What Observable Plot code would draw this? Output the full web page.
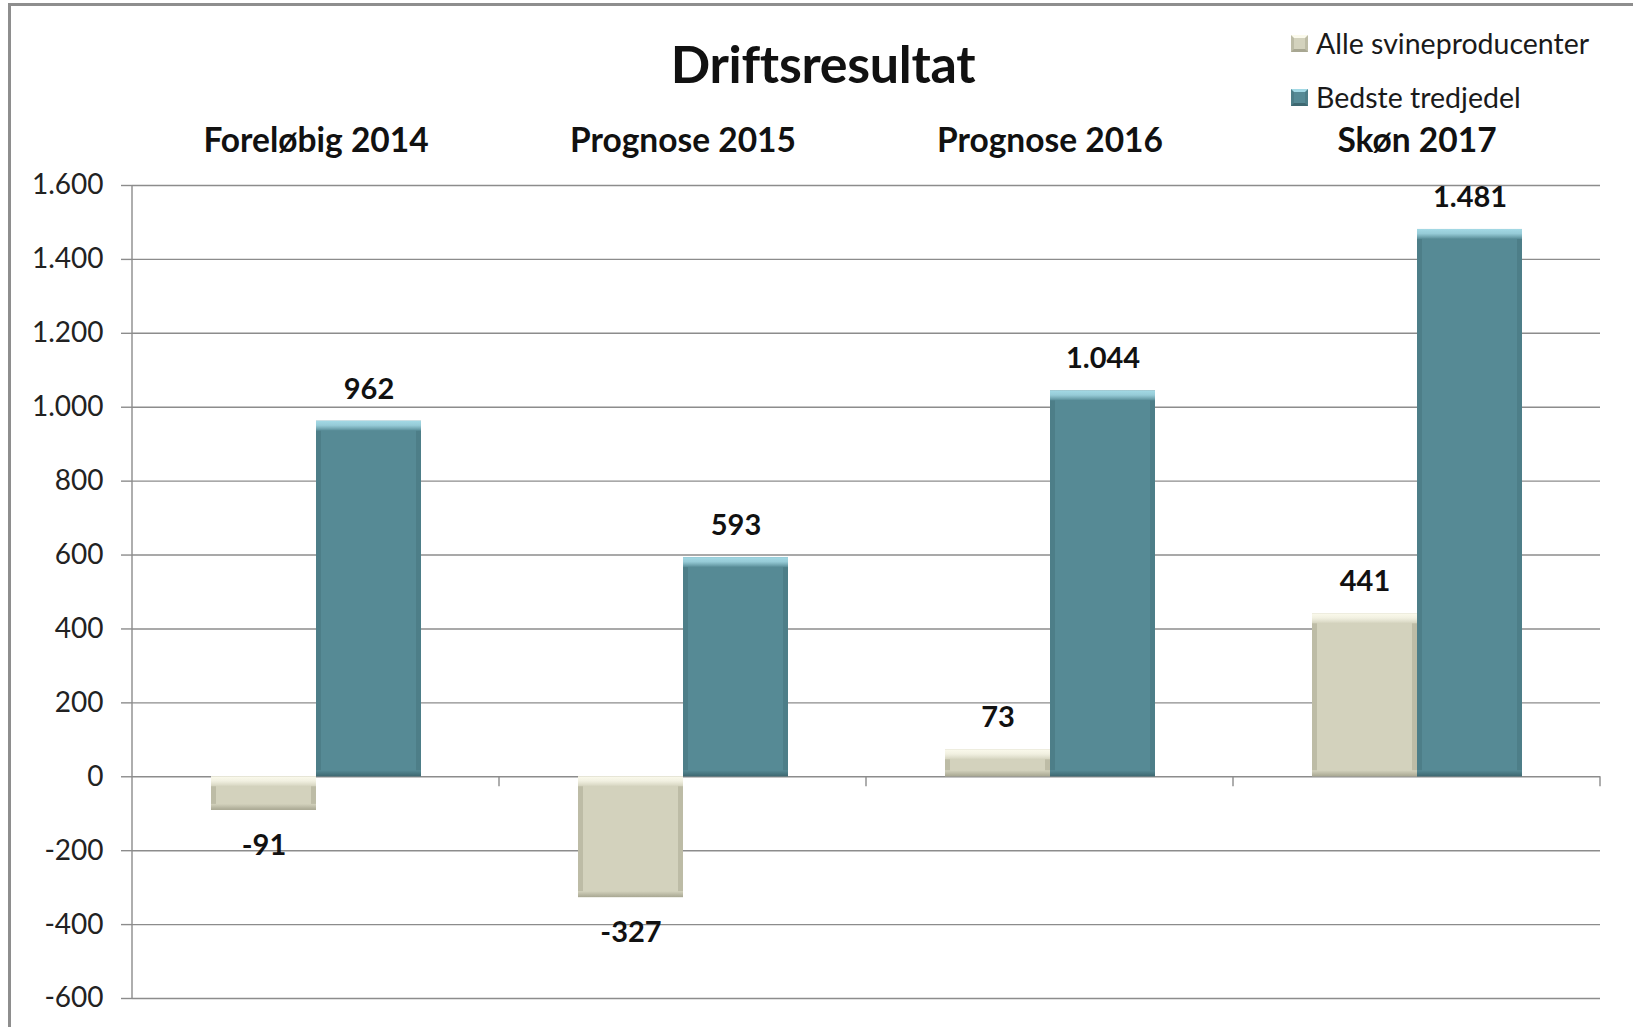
<!DOCTYPE html>
<html><head><meta charset="utf-8">
<script src="https://cdn.jsdelivr.net/npm/d3@7"></script>
<script src="https://cdn.jsdelivr.net/npm/@observablehq/plot@0.6"></script>
<style>
body{margin:0;background:#fff;font-family:Lato,"Open Sans",sans-serif;}
#wrap{position:relative;width:1633px;height:1027px;overflow:hidden;background:#fff;}
#frame{position:absolute;left:8px;top:3px;width:1700px;height:1100px;border-left:3px solid #8e8e8e;border-top:3px solid #8e8e8e;}
#chart{position:absolute;left:0;top:0;}
#title{position:absolute;left:0;width:1646px;top:31px;text-align:center;font-size:52px;font-weight:bold;color:#111;line-height:64px;letter-spacing:-0.3px;}
#legend{position:absolute;left:1291px;top:16px;font-size:28.5px;color:#1a1a1a;}
#legend .item{height:54px;line-height:40px;display:flex;align-items:center;}
#legend .sw{display:inline-block;width:17px;height:17px;margin-right:8px;box-sizing:border-box;}
g[aria-label="bar-base"] rect{filter:drop-shadow(3px 4px 3px rgba(0,0,0,0.4));}
</style></head>
<body>
<div id="wrap">
  <div id="frame"></div>
  <div id="chart"></div>
  <div id="title"></div>
  <div id="legend"></div>
</div>
<script>
const titleText = "Driftsresultat";
const categories = ["Foreløbig 2014", "Prognose 2015", "Prognose 2016", "Skøn 2017"];
const seriesNames = ["Alle svineproducenter", "Bedste tredjedel"];
const alleValues = [-91, -327, 73, 441];
const bedsteValues = [962, 593, 1044, 1481];
const yTickValues = [-600, -400, -200, 0, 200, 400, 600, 800, 1000, 1200, 1400, 1600];

const bodyColors = ["#d3d2bd", "#568a95"];
const sideColors = ["#bdbca6", "#4d7e88"];
const lightColors = ["#fbfaec", "#a3d9e5"];
const darkColors = ["#a8a792", "#3e6871"];

const rows = categories.flatMap((c, i) => [
  {category: c, series: seriesNames[0], value: alleValues[i], s: 0},
  {category: c, series: seriesNames[1], value: bedsteValues[i], s: 1}
]);

const loc = d3.formatLocale({decimal: ",", thousands: ".", grouping: [3], currency: ["", ""], minus: "-"});
const fmt = loc.format(",d");

const plot = Plot.plot({
  width: 1633, height: 1027,
  marginLeft: 130, marginRight: 32, marginTop: 185, marginBottom: 29,
  style: {fontFamily: "Lato, 'Open Sans', sans-serif", background: "transparent", color: "#1a1a1a", overflow: "visible"},
  fx: {domain: categories, padding: 0, label: null},
  x: {domain: seriesNames, paddingInner: 0, paddingOuter: 0.743, axis: null},
  y: {domain: [-600, 1600], axis: null},
  color: {type: "identity"},
  marks: [
    Plot.ruleY(yTickValues, {stroke: "#8c8c8c", strokeWidth: 1.4}),
    Plot.axisY(yTickValues, {tickSize: 11, tickPadding: 18, fontSize: 28, tickFormat: fmt, stroke: "#8c8c8c", strokeWidth: 1.4, label: null, fill: "#222"}),
    Plot.axisFx({anchor: "top", tickSize: 0, tickPadding: 34, fontSize: 33.5, fontWeight: "bold", label: null, fill: "#111"}),
    Plot.barY(rows, {fx: "category", x: "series", y1: 0, y2: "value", fill: d => sideColors[d.s], ariaLabel: "bar-base"}),
    Plot.barY(rows, {fx: "category", x: "series", y1: 0, y2: "value", fill: d => bodyColors[d.s], insetTop: 8, insetBottom: 5, insetLeft: 5, insetRight: 5}),
    Plot.barY(rows, {fx: "category", x: "series", y1: d => Math.max(d.value, 0), y2: d => Math.max(d.value, 0), insetBottom: -10, fill: d => `url(#topG${d.s})`}),
    Plot.barY(rows, {fx: "category", x: "series", y1: d => Math.min(d.value, 0), y2: d => Math.min(d.value, 0), insetTop: -6, fill: d => `url(#botG${d.s})`}),
    Plot.text(rows.filter(d => d.value >= 0), {fx: "category", x: "series", y: "value", text: d => fmt(d.value), dy: -32, fontSize: 29, fontWeight: "bold", fill: "#111"}),
    Plot.text(rows.filter(d => d.value < 0), {fx: "category", x: "series", y: "value", text: d => fmt(d.value), dy: 35, fontSize: 29, fontWeight: "bold", fill: "#111"})
  ]
});

document.getElementById("chart").appendChild(plot);

const svg = d3.select(plot);
const defs = svg.insert("defs", ":first-child");
[0, 1].forEach(s => {
  const t = defs.append("linearGradient").attr("id", "topG" + s).attr("x1", 0).attr("y1", 0).attr("x2", 0).attr("y2", 1);
  t.append("stop").attr("offset", 0).attr("stop-color", lightColors[s]);
  t.append("stop").attr("offset", 0.45).attr("stop-color", lightColors[s]).attr("stop-opacity", 0.85);
  t.append("stop").attr("offset", 1).attr("stop-color", bodyColors[s]);
  const b = defs.append("linearGradient").attr("id", "botG" + s).attr("x1", 0).attr("y1", 0).attr("x2", 0).attr("y2", 1);
  b.append("stop").attr("offset", 0).attr("stop-color", bodyColors[s]);
  b.append("stop").attr("offset", 1).attr("stop-color", darkColors[s]);
});

// axis line and category boundary ticks from scales
const ys = plot.scale("y"), fxs = plot.scale("fx");
const left = fxs.apply(categories[0]);
const g = svg.append("g").attr("stroke", "#8c8c8c").attr("stroke-width", 1.4);
g.append("line").attr("x1", left).attr("x2", left)
  .attr("y1", ys.apply(yTickValues[yTickValues.length - 1])).attr("y2", ys.apply(yTickValues[0]));
categories.forEach(c => {
  const xb = fxs.apply(c) + fxs.bandwidth;
  g.append("line").attr("x1", xb).attr("x2", xb).attr("y1", ys.apply(0)).attr("y2", ys.apply(0) + 10);
});

document.getElementById("title").textContent = titleText;
const legend = document.getElementById("legend");
seriesNames.forEach((name, i) => {
  const item = document.createElement("div");
  item.className = "item";
  const sw = document.createElement("span");
  sw.className = "sw";
  sw.style.background = bodyColors[i];
  sw.style.border = "3px solid " + sideColors[i];
  sw.style.borderTopColor = lightColors[i];
  sw.style.borderBottomColor = darkColors[i];
  item.appendChild(sw);
  item.appendChild(document.createTextNode(name));
  legend.appendChild(item);
});
</script>
</body></html>
